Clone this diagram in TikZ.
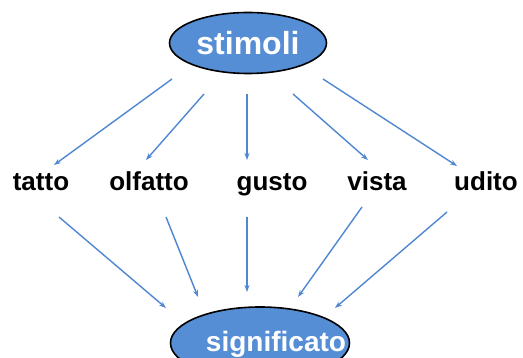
\documentclass[tikz,border=0pt]{standalone}
\usepackage{fontspec}
\setmainfont{Liberation Sans}
\usepackage{tikz}
\usetikzlibrary{shapes,arrows.meta,positioning}

\definecolor{senso}{RGB}{85,142,213}
\definecolor{freccia}{RGB}{80,135,210}

\tikzset{
	polo/.style={ellipse, draw=black, line width=1.6pt, fill=senso, text=white, inner sep=0pt, font=\bfseries},
	senso/.style={anchor=base, inner sep=0pt, font=\fontsize{26}{30}\selectfont\bfseries},
	freccia/.style={draw=freccia, line width=1.4pt, -{Stealth[length=7pt,width=5pt]}}
}

\begin{document}
\begin{tikzpicture}[x=1pt,y=1pt]
		\clip (0,0) rectangle (523,358);
		\useasboundingbox (0,0) rectangle (523,358);
		% poli
		\node[polo, minimum width=157pt, minimum height=61pt, font=\fontsize{32}{38}\selectfont\bfseries] (stimoli) at (248,315) {stimoli};
		\node[polo, minimum width=179pt, minimum height=72pt,
			label={[text=white, inner sep=0pt, font=\fontsize{28}{34}\selectfont\bfseries, shift={(16pt,-1pt)}]center:significato}] (significato) at (260,15) {};
		% sensi
		\node[senso] (tatto)   at (41,167)  {tatto};
		\node[senso] (olfatto) at (149,167) {olfatto};
		\node[senso] (gusto)   at (272,167) {gusto};
		\node[senso] (vista)   at (377,167) {vista};
		\node[senso] (udito)   at (486,167) {udito};
		% stimoli -> sensi
		\draw[freccia] ([shift={(-76,-36)}]stimoli.center) -- ([shift={(13,26)}]tatto.base);
		\draw[freccia] ([shift={(-44,-51)}]stimoli.center) -- ([shift={(-3,31)}]olfatto.base);
		\draw[freccia] ([shift={(-1,-51)}]stimoli.center)  -- ([shift={(-25,31)}]gusto.base);
		\draw[freccia] ([shift={(45,-51)}]stimoli.center)  -- ([shift={(-9,31)}]vista.base);
		\draw[freccia] ([shift={(75,-36)}]stimoli.center)  -- ([shift={(-29,25)}]udito.base);
		% sensi -> significato
		\draw[freccia] ([shift={(18,-26)}]tatto.base)   -- ([shift={(-94,35)}]significato.center);
		\draw[freccia] ([shift={(17,-26)}]olfatto.base) -- ([shift={(-62,46)}]significato.center);
		\draw[freccia] ([shift={(-25,-26)}]gusto.base)  -- ([shift={(-13,51)}]significato.center);
		\draw[freccia] ([shift={(-15,-16)}]vista.base)  -- ([shift={(38,46)}]significato.center);
		\draw[freccia] ([shift={(-39,-21)}]udito.base)  -- ([shift={(75,35)}]significato.center);
\end{tikzpicture}
\end{document}
